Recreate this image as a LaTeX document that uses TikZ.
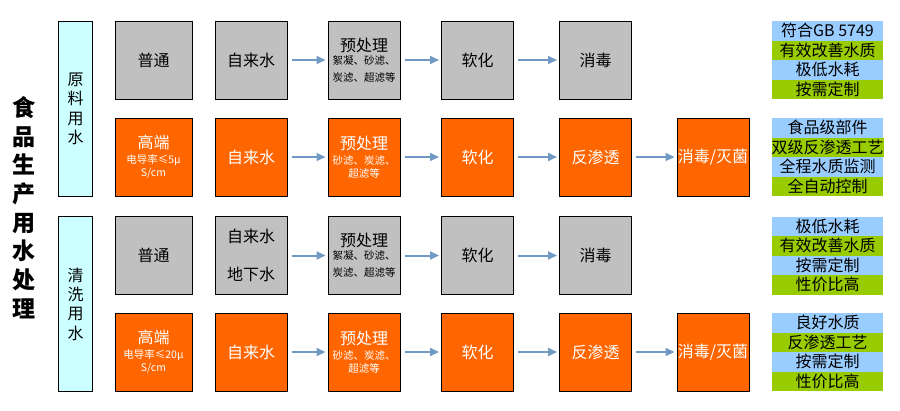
\documentclass[tikz,border=0pt]{standalone}
\usepackage{fontspec}
\setmainfont{Noto Sans CJK SC}
\usetikzlibrary{arrows.meta}
\definecolor{Plain}{HTML}{C0C0C0}
\definecolor{High}{HTML}{FF6600}
\definecolor{Side}{HTML}{CCFFFF}
\definecolor{TabBlue}{HTML}{99CCFF}
\definecolor{TabGreen}{HTML}{99CC00}
\definecolor{Flow}{HTML}{7099C4}
\newcommand{\smallnote}{\fontsize{10.5}{13}\selectfont}

\begin{document}
\begin{tikzpicture}[
  x=1pt, y=-1pt,
  font=\fontsize{16}{19}\selectfont,
  stage/.style={draw=black, line width=1pt, minimum width=72pt, minimum height=78pt, inner sep=0pt, align=center},
  plain/.style={stage, fill=Plain},
  high/.style={stage, fill=High, text=white},
  side/.style={draw=black, line width=1pt, fill=Side, minimum width=34pt, minimum height=175pt, inner sep=0pt, align=center, font=\fontsize{16}{19.3}\selectfont},
  cellA/.style={fill=TabBlue, minimum width=111pt, minimum height=19.5pt, inner sep=0pt},
  cellB/.style={cellA, fill=TabGreen},
  arrow/.style={-{Triangle[length=9pt, width=8pt]}, line width=2pt, draw=Flow, shorten <=4pt, shorten >=2pt}
]
\useasboundingbox (0,0) rectangle (900,410);

\node[font=\fontsize{23}{28.7}\selectfont\bfseries, align=center] (title) at (24,207.5) {食\\品\\生\\产\\用\\水\\处\\理};

\node[side] (raw) at (75.5,109) {原\\料\\用\\水};
\node[side] (wash) at (75.5,304) {清\\洗\\用\\水};

% raw water, plain
\node[plain, minimum width=77pt] (r1c1) at (153.5,60) {普通};
\node[plain] (r1c2) at (251,60) {自来水};
\node[plain] (r1c3) at (364,60) {预处理\\[-6pt]\smallnote 絮凝、砂滤、\\[-2pt]\smallnote 炭滤、超滤等};
\node[plain] (r1c4) at (477.5,60) {软化};
\node[plain] (r1c5) at (595.5,60) {消毒};

% raw water, high end
\node[high, minimum width=77pt] (r2c1) at (153.5,157) {高端\\[-4pt]\smallnote 电导率≤5μ\\[-6pt]\smallnote S/cm};
\node[high] (r2c2) at (251,157) {自来水};
\node[high] (r2c3) at (364,157) {预处理\\[-4pt]\smallnote 砂滤、炭滤、\\[-6pt]\smallnote 超滤等};
\node[high] (r2c4) at (477.5,157) {软化};
\node[high] (r2c5) at (595.5,157) {反渗透};
\node[high] (r2c6) at (713,157) {消毒/灭菌};

% washing water, plain
\node[plain, minimum width=77pt] (r3c1) at (153.5,255.5) {普通};
\node[plain] (r3c2) at (251,255.5) {自来水\\[19pt]地下水};
\node[plain] (r3c3) at (364,255.5) {预处理\\[-6pt]\smallnote 絮凝、砂滤、\\[-2pt]\smallnote 炭滤、超滤等};
\node[plain] (r3c4) at (477.5,255.5) {软化};
\node[plain] (r3c5) at (595.5,255.5) {消毒};

% washing water, high end
\node[high, minimum width=77pt] (r4c1) at (153.5,352) {高端\\[-4pt]\smallnote 电导率≤20μ\\[-6pt]\smallnote S/cm};
\node[high] (r4c2) at (251,352) {自来水};
\node[high] (r4c3) at (364,352) {预处理\\[-4pt]\smallnote 砂滤、炭滤、\\[-6pt]\smallnote 超滤等};
\node[high] (r4c4) at (477.5,352) {软化};
\node[high] (r4c5) at (595.5,352) {反渗透};
\node[high] (r4c6) at (713,352) {消毒/灭菌};

\draw[arrow] (r1c2) -- (r1c3);
\draw[arrow] (r1c3) -- (r1c4);
\draw[arrow] (r1c4) -- (r1c5);
\draw[arrow] (r2c2) -- (r2c3);
\draw[arrow] (r2c3) -- (r2c4);
\draw[arrow] (r2c4) -- (r2c5);
\draw[arrow] (r2c5) -- (r2c6);
\draw[arrow] (r3c2) -- (r3c3);
\draw[arrow] (r3c3) -- (r3c4);
\draw[arrow] (r3c4) -- (r3c5);
\draw[arrow] (r4c2) -- (r4c3);
\draw[arrow] (r4c3) -- (r4c4);
\draw[arrow] (r4c4) -- (r4c5);
\draw[arrow] (r4c5) -- (r4c6);

% feature tables
\node[cellA] (t1a) at (827.5,30.75) {符合GB 5749};
\node[cellB] (t1b) at (827.5,50.25) {有效改善水质};
\node[cellA] (t1c) at (827.5,69.75) {极低水耗};
\node[cellB] (t1d) at (827.5,89.25) {按需定制};

\node[cellA] (t2a) at (827.5,127.75) {食品级部件};
\node[cellB] (t2b) at (827.5,147.25) {双级反渗透工艺};
\node[cellA] (t2c) at (827.5,166.75) {全程水质监测};
\node[cellB] (t2d) at (827.5,186.25) {全自动控制};

\node[cellA] (t3a) at (827.5,226.25) {极低水耗};
\node[cellB] (t3b) at (827.5,245.75) {有效改善水质};
\node[cellA] (t3c) at (827.5,265.25) {按需定制};
\node[cellB] (t3d) at (827.5,284.75) {性价比高};

\node[cellA] (t4a) at (827.5,322.75) {良好水质};
\node[cellB] (t4b) at (827.5,342.25) {反渗透工艺};
\node[cellA] (t4c) at (827.5,361.75) {按需定制};
\node[cellB] (t4d) at (827.5,381.25) {性价比高};
\end{tikzpicture}
\end{document}
